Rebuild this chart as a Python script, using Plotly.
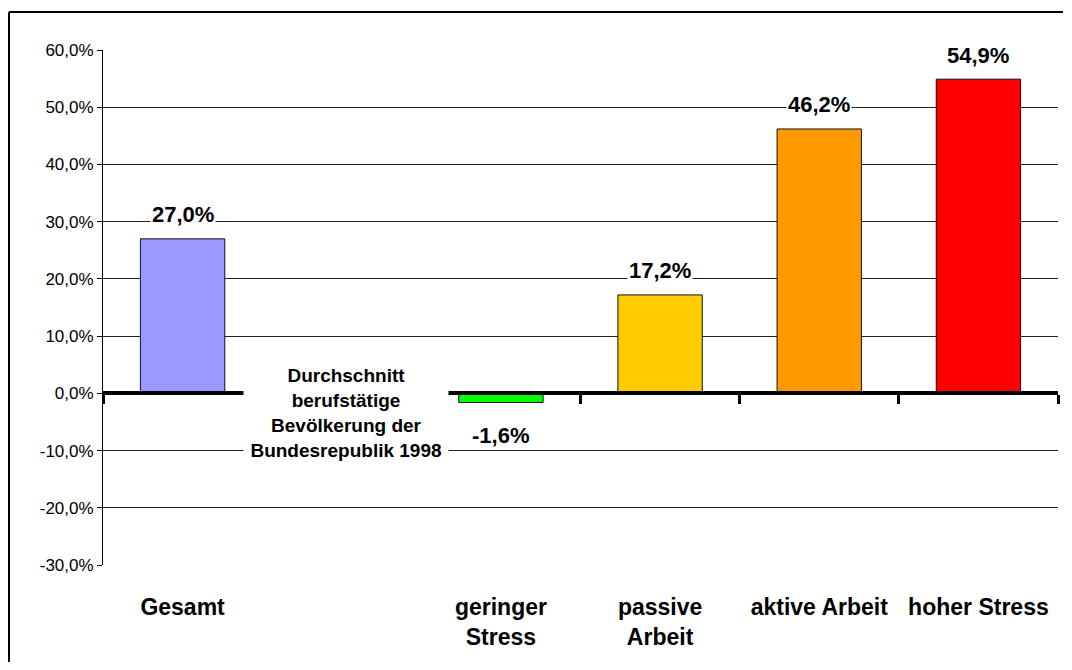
import plotly.graph_objects as go

categories = ["Gesamt", "", "geringer<br>Stress", "passive<br>Arbeit", "aktive Arbeit", "hoher Stress"]
values = [27.0, None, -1.6, 17.2, 46.2, 54.9]
bar_colors = ["#9999FF", "#FFFFFF", "#00FF00", "#FFCC00", "#FF9900", "#FF0000"]
note_text = "Durchschnitt<br>berufstätige<br>Bevölkerung der<br>Bundesrepublik 1998"
y_ticks = [-30, -20, -10, 0, 10, 20, 30, 40, 50, 60]

FONT = "Liberation Sans, Arial, sans-serif"
xs = list(range(len(categories)))


def fmt(v):
    return f"{v:.1f}".replace(".", ",") + "%"


y_ticktext = [fmt(v) for v in y_ticks]

# page body adds an 8px margin on every side; keep the figure inside the window
W, H = 1056, 654
ML, MR, MT, MB = 95, 6, 42, 97
PW, PH = W - ML - MR, H - MT - MB

fig = go.Figure()
fig.add_trace(go.Bar(
    x=xs, y=values, width=0.53,
    marker=dict(color=bar_colors, line=dict(color="#111111", width=1)),
    showlegend=False, hoverinfo="skip",
))
# empty helper trace so the category-axis at y=0 (xaxis2) is drawn
fig.add_trace(go.Scatter(
    x=xs, y=[None] * len(xs), xaxis="x2", yaxis="y",
    mode="markers", showlegend=False, hoverinfo="skip",
))

for x, v in zip(xs, values):
    if v is None:
        continue
    fig.add_annotation(
        x=x, y=v, xref="x", yref="y", text=f"<b>{fmt(v)}</b>",
        showarrow=False, yanchor="middle",
        yshift=24 if v >= 0 else -33,
        font=dict(family=FONT, size=22, color="black"),
        bgcolor="white", borderpad=1,
    )

fig.add_annotation(
    x=1.025, y=-3.5, xref="x", yref="y", text=f"<b>{note_text}</b>",
    showarrow=False, xanchor="center", yanchor="middle",
    font=dict(family=FONT, size=19, color="black"),
    bgcolor="white", borderpad=0, width=204, height=96, align="center",
)

# outer chart border: left and top edges
x_left = (1 - ML) / PW
y_top = (PH + MT - 4) / PH
fig.add_shape(type="line", xref="paper", yref="paper",
              x0=x_left, x1=x_left, y0=-(MB + 10) / PH, y1=y_top,
              line=dict(color="black", width=2), layer="below")
fig.add_shape(type="line", xref="paper", yref="paper",
              x0=x_left, x1=(W - 1 - ML) / PW, y0=y_top, y1=y_top,
              line=dict(color="black", width=2), layer="below")

fig.update_layout(
    width=W, height=H,
    margin=dict(l=ML, r=MR, t=MT, b=MB),
    paper_bgcolor="white", plot_bgcolor="white",
    font=dict(family=FONT, color="black"),
    xaxis=dict(
        range=[-0.5, 5.5], tickmode="array", tickvals=xs,
        ticktext=[f"<b>{c}</b>" if c else "" for c in categories],
        showgrid=False, zeroline=False, showline=False, ticks="",
        ticklabelstandoff=26,
        tickfont=dict(family=FONT, size=23, color="black"),
    ),
    xaxis2=dict(
        overlaying="x", anchor="free", position=1/3, side="bottom",
        range=[-0.5, 5.5], tickmode="array", tickvals=[i - 0.5 for i in range(len(categories) + 1)],
        showticklabels=False, showgrid=False, zeroline=False,
        showline=True, linecolor="black", linewidth=4,
        ticks="outside", ticklen=9, tickwidth=3, tickcolor="black",
    ),
    yaxis=dict(
        range=[-30, 60], tickmode="array", tickvals=y_ticks, ticktext=y_ticktext,
        showgrid=True, gridcolor="#222222", gridwidth=1,
        zeroline=False, showline=True, linecolor="black", linewidth=1,
        ticks="outside", ticklen=5, tickcolor="black",
        tickfont=dict(family=FONT, size=17, color="black"),
    ),
)

fig.write_html("out.html")
